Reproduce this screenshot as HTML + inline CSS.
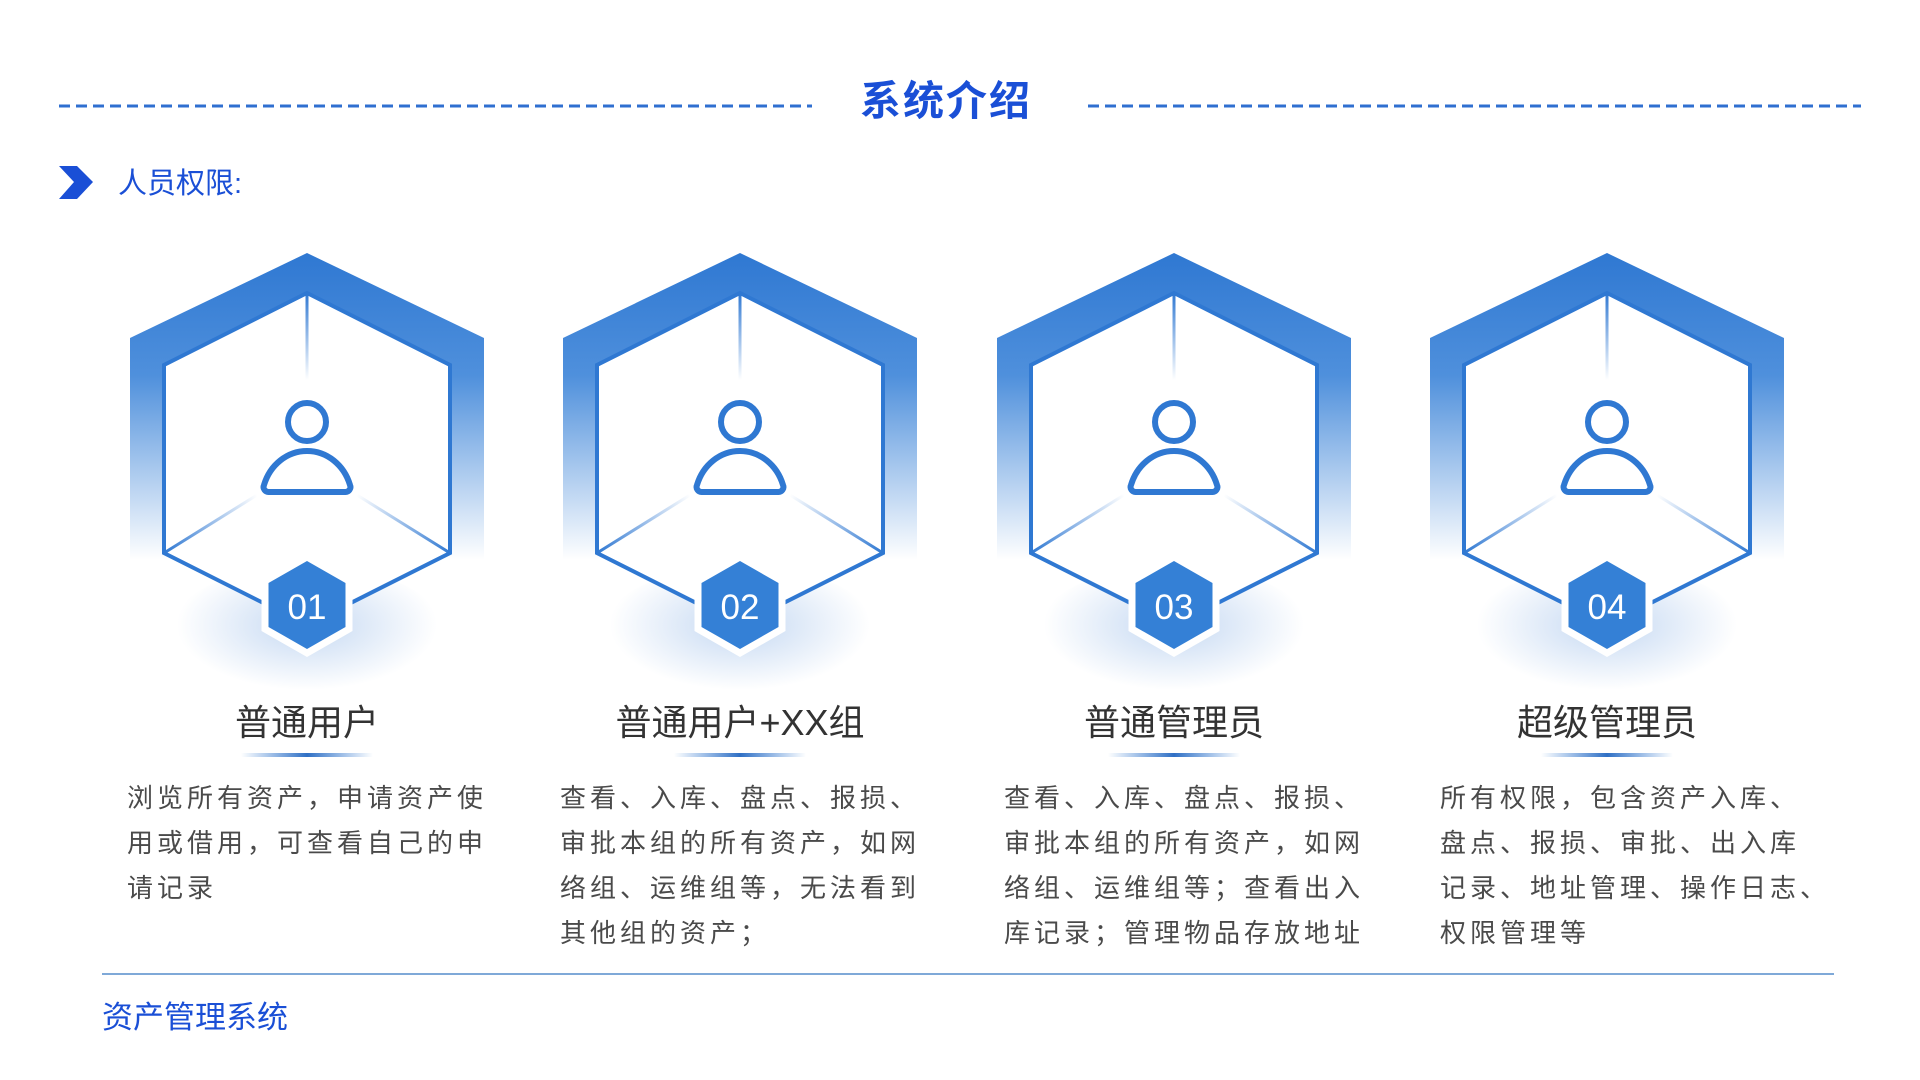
<!DOCTYPE html>
<html><head><meta charset="utf-8"><style>
html,body{margin:0;padding:0;background:#fff;}
body{width:1920px;height:1080px;position:relative;overflow:hidden;font-family:"Liberation Sans","Noto Sans CJK SC",sans-serif;}
.t{position:absolute;white-space:nowrap;}
.title{font-size:41px;font-weight:bold;color:#1a4fd6;left:0;width:1892px;text-align:center;top:67px;letter-spacing:2px;}
.sub{left:118px;top:160px;font-size:29px;color:#1a4fd6;}
.h{font-size:36px;color:#333;top:694px;width:400px;text-align:center;}
.d{font-size:26px;color:#4a4a4a;letter-spacing:4px;line-height:45px;top:776px;}
.foot{left:102px;top:992px;font-size:31px;color:#1a4fd6;}
</style></head><body>
<svg width="1920" height="1080" style="position:absolute;left:0;top:0">
<defs>
<linearGradient id="og" x1="0" y1="253" x2="0" y2="560" gradientUnits="userSpaceOnUse">
<stop offset="0" stop-color="#2f78d2"/><stop offset="0.4" stop-color="#4f90dc"/><stop offset="1" stop-color="#4f90dc" stop-opacity="0"/></linearGradient>
<linearGradient id="vg" x1="0" y1="293" x2="0" y2="380" gradientUnits="userSpaceOnUse">
<stop offset="0" stop-color="#2f78d2"/><stop offset="1" stop-color="#2f78d2" stop-opacity="0"/></linearGradient>
<linearGradient id="lg" x1="-143" y1="553" x2="-50" y2="495" gradientUnits="userSpaceOnUse">
<stop offset="0" stop-color="#2f78d2"/><stop offset="1" stop-color="#2f78d2" stop-opacity="0"/></linearGradient>
<linearGradient id="rg" x1="143" y1="553" x2="50" y2="495" gradientUnits="userSpaceOnUse">
<stop offset="0" stop-color="#2f78d2"/><stop offset="1" stop-color="#2f78d2" stop-opacity="0"/></linearGradient>
<radialGradient id="glow" cx="0" cy="625" r="130" gradientUnits="userSpaceOnUse" gradientTransform="translate(0,625) scale(1,0.5) translate(0,-625)">
<stop offset="0" stop-color="#c4d8f2"/><stop offset="1" stop-color="#c4d8f2" stop-opacity="0"/></radialGradient>
<linearGradient id="ul" x1="0" x2="1"><stop offset="0" stop-color="#2f78d2" stop-opacity="0"/><stop offset="0.5" stop-color="#2f6fc4"/><stop offset="1" stop-color="#2f78d2" stop-opacity="0"/></linearGradient>
<g id="hx">
<ellipse cx="0" cy="628" rx="135" ry="62" fill="url(#glow)"/>
<polygon points="0,253 177,338 177,640 0,720 -177,640 -177,338" fill="url(#og)"/>
<polygon points="0,293 143,365 143,553 0,625 -143,553 -143,365" fill="#fff" stroke="#2f78d2" stroke-width="4"/>
<line x1="0" y1="295" x2="0" y2="380" stroke="url(#vg)" stroke-width="3"/>
<line x1="-143" y1="553" x2="-50" y2="495" stroke="url(#lg)" stroke-width="3"/>
<line x1="143" y1="553" x2="50" y2="495" stroke="url(#rg)" stroke-width="3"/>
<circle cx="0" cy="422" r="19" fill="none" stroke="#2f78d2" stroke-width="6"/>
<path d="M-38 492 h76 a5 5 0 0 0 5 -7 c-6 -20 -23 -34 -43 -34 s-37 14 -43 34 a5 5 0 0 0 5 7z" fill="none" stroke="#2f78d2" stroke-width="6"/>
<polygon points="0,557 42,581 42,629 0,653 -42,629 -42,581" fill="#3480d6" stroke="#fff" stroke-width="7"/>
<rect x="-66" y="753" width="132" height="4" fill="url(#ul)"/>
</g>
</defs>
<line x1="59" y1="106" x2="812" y2="106" stroke="#2f6fd0" stroke-width="3" stroke-dasharray="11,6"/>
<line x1="1088" y1="106" x2="1861" y2="106" stroke="#2f6fd0" stroke-width="3" stroke-dasharray="11,6"/>
<polygon points="59,166 77,166 93,182 77,199 59,199 74,182" fill="#1a4fd6"/>
<use href="#hx" x="307"/><use href="#hx" x="740"/><use href="#hx" x="1174"/><use href="#hx" x="1607"/>
<g font-family="Liberation Sans, sans-serif" font-size="35" fill="#fff" text-anchor="middle">
<text x="307" y="619">01</text><text x="740" y="619">02</text><text x="1174" y="619">03</text><text x="1607" y="619">04</text>
</g>
<line x1="102" y1="974" x2="1834" y2="974" stroke="#7fa9d8" stroke-width="2"/>
</svg>
<div class="t title">系统介绍</div>
<div class="t sub">人员权限:</div>
<div class="t h" style="left:107px">普通用户</div>
<div class="t h" style="left:540px">普通用户+XX组</div>
<div class="t h" style="left:974px">普通管理员</div>
<div class="t h" style="left:1407px">超级管理员</div>
<div class="t d" style="left:127px">浏览所有资产，申请资产使<br>用或借用，可查看自己的申<br>请记录</div>
<div class="t d" style="left:560px">查看、入库、盘点、报损、<br>审批本组的所有资产，如网<br>络组、运维组等，无法看到<br>其他组的资产；</div>
<div class="t d" style="left:1004px">查看、入库、盘点、报损、<br>审批本组的所有资产，如网<br>络组、运维组等；查看出入<br>库记录；管理物品存放地址</div>
<div class="t d" style="left:1440px">所有权限，包含资产入库、<br>盘点、报损、审批、出入库<br>记录、地址管理、操作日志、<br>权限管理等</div>
<div class="t foot">资产管理系统</div>
</body></html>
